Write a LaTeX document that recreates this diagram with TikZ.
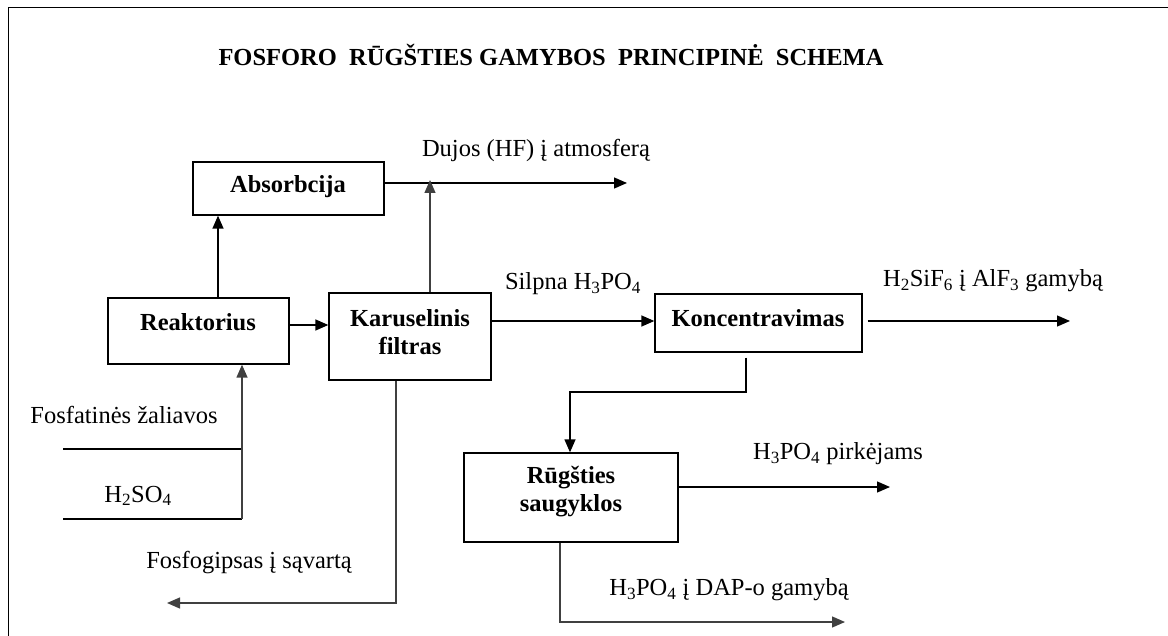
\documentclass[tikz,border=0pt]{standalone}
\usepackage{fontspec}
\setmainfont{Liberation Serif}
\usetikzlibrary{arrows.meta}
\tikzset{
  box/.style={draw=black, line width=1.3pt, rectangle, inner sep=0pt},
  lbl/.style={font=\fontsize{24.5}{28}\selectfont, inner sep=0pt, align=center},
  blbl/.style={font=\fontsize{24.5}{28}\selectfont\bfseries, inner sep=0pt, align=center},
  conn/.style={line width=1.3pt, draw=black},
  gconn/.style={line width=1.3pt, draw=black!75},
  arr/.style={-{Triangle[length=13pt,width=11pt]}},
}
\begin{document}
\begin{tikzpicture}[x=1pt,y=-1pt]
\useasboundingbox (0,0) rectangle (1168,636);
% frame
\draw[line width=1.8pt] (8.5,636) -- (8.5,7.5) -- (1168,7.5);
% title
\node[blbl] (title) at (551,55) {FOSFORO\ \ RŪGŠTIES GAMYBOS\ \ PRINCIPINĖ\ \ SCHEMA};
% boxes
\node[box, minimum width=191pt, minimum height=53pt] (absorb) at (288.5,188.5) {};
\node[box, minimum width=181pt, minimum height=66pt] (reak) at (198.5,331) {};
\node[box, minimum width=162pt, minimum height=87pt] (karus) at (410,336.5) {};
\node[box, minimum width=207pt, minimum height=58pt] (konc) at (758.5,323) {};
\node[box, minimum width=214pt, minimum height=89pt] (rug) at (571,497.5) {};
% box texts
\node[blbl] (absorbT) at (288,187) {Absorbcija};
\node[blbl] (reakT) at (198,322) {Reaktorius};
\node[blbl] (karusT) at (410,332) {Karuselinis\\filtras};
\node[blbl] (koncT) at (758,318) {Koncentravimas};
\node[blbl] (rugT) at (571,492) {Rūgšties\\saugyklos};
% labels
\node[lbl] (dujos) at (536,150) {Dujos (HF) į atmosferą};
\node[lbl] (silpna) at (573,284) {Silpna H\textsubscript{3}PO\textsubscript{4}};
\node[lbl] (alf) at (993,281) {H\textsubscript{2}SiF\textsubscript{6} į AlF\textsubscript{3} gamybą};
\node[lbl] (pirk) at (838,454) {H\textsubscript{3}PO\textsubscript{4} pirkėjams};
\node[lbl] (dap) at (729,590) {H\textsubscript{3}PO\textsubscript{4} į DAP-o gamybą};
\node[lbl] (gips) at (249,563) {Fosfogipsas į sąvartą};
\node[lbl] (zal) at (124,415) {Fosfatinės žaliavos};
\node[lbl] (hso) at (138,496) {H\textsubscript{2}SO\textsubscript{4}};
% coordinates
\coordinate (dujEnd) at (627,183);
\coordinate (xA) at (218,0);
\coordinate (xK) at (430,0);
\coordinate (yRK) at (0,325);
\coordinate (ySK) at (0,321);
\coordinate (alfEnd) at (1070,321);
\coordinate (k1) at (746,392);
\coordinate (k2) at (570,392);
\coordinate (pirkEnd) at (890,487);
\coordinate (d1) at (560,622);
\coordinate (dapEnd) at (845,622);
\coordinate (g1) at (396,603);
\coordinate (gipsEnd) at (167,603);
\coordinate (in1) at (63,449);
\coordinate (in1e) at (243,449);
\coordinate (in2) at (63,519);
\coordinate (in2e) at (242,519);
% connectors
\draw[conn,arr] (reak.north -| xA) -- (absorb.south -| xA);
\draw[conn,arr] (absorb.east |- dujEnd) -- (dujEnd);
\draw[gconn,arr] (karus.north -| xK) -- ([yshift=3pt]xK |- dujEnd);
\draw[conn,arr] (reak.east |- yRK) -- (karus.west |- yRK);
\draw[conn,arr] (karus.east |- ySK) -- (konc.west |- ySK);
\draw[conn,arr] ([xshift=5pt]konc.east |- alfEnd) -- (alfEnd);
\draw[conn,arr] ([yshift=-5pt]konc.south -| k1) -- (k1) -- (k2) -- (rug.north -| k2);
\draw[conn,arr] (rug.east |- pirkEnd) -- (pirkEnd);
\draw[gconn,arr] (rug.south -| d1) -- (d1) -- (dapEnd);
\draw[gconn,arr] (karus.south -| g1) -- (g1) -- (gipsEnd);
\draw[conn] (in1) -- (in1e);
\draw[conn] (in2) -- (in2e);
\draw[gconn,arr] (in2e) -- (reak.south -| in2e);
\end{tikzpicture}
\end{document}
